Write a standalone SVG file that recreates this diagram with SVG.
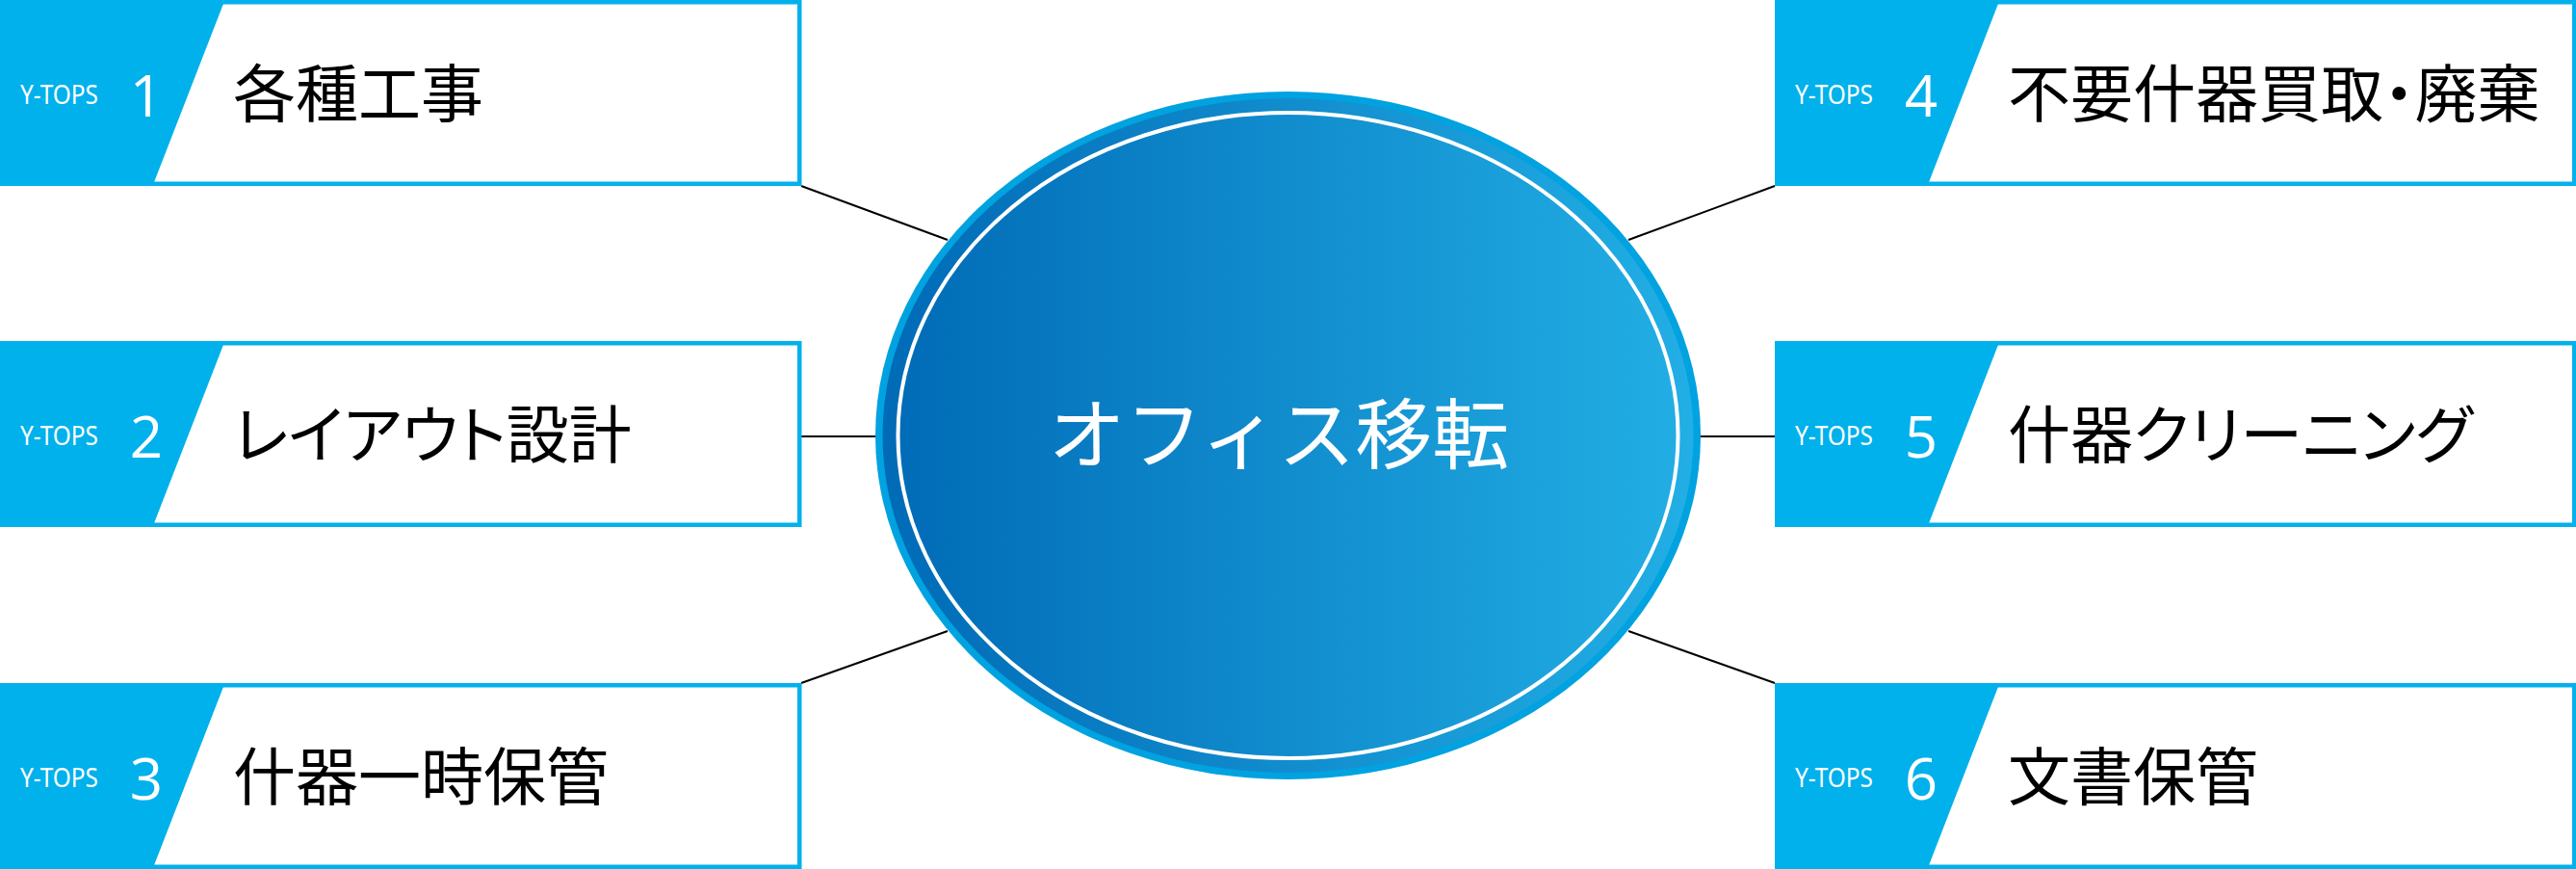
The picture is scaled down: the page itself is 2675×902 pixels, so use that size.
<svg xmlns="http://www.w3.org/2000/svg" width="2675" height="902" viewBox="0 0 2675 902">
<defs>
<linearGradient id="g" x1="0" y1="0" x2="1" y2="0">
<stop offset="0" stop-color="#006ab6"/>
<stop offset="1" stop-color="#22afe5"/>
</linearGradient>
<style>
.frame{fill:#fff;stroke:#00b1ec;stroke-width:4.5}
.tab{fill:#00b1ec}
.brand{font-family:"Noto Sans","Open Sans",sans-serif;font-size:27px;fill:#fff}
.num{font-family:"Open Sans","Noto Sans",sans-serif;font-weight:400;font-size:60px;fill:#fff;text-anchor:middle}
.lbl{font-family:"Noto Sans CJK JP","Noto Sans",sans-serif;font-size:65px;fill:#000;font-feature-settings:"palt"}
.conn line{stroke:#000;stroke-width:2}
.hub{font-family:"Noto Sans CJK JP","Noto Sans",sans-serif;font-size:80px;fill:#fff;text-anchor:middle}
</style>
</defs>
<rect width="2675" height="902" fill="#fff"/>
<g class="conn">
<line x1="832" y1="193" x2="984" y2="249"/>
<line x1="832" y1="453" x2="910" y2="453"/>
<line x1="832" y1="709" x2="984" y2="655"/>
<line x1="1843" y1="193" x2="1691" y2="249"/>
<line x1="1843" y1="453" x2="1765" y2="453"/>
<line x1="1843" y1="709" x2="1691" y2="655"/>
</g>
<g id="hub">
<ellipse cx="1337.5" cy="452" rx="428.5" ry="357" fill="#00a2e0"/>
<ellipse cx="1337.5" cy="452" rx="421" ry="350" fill="url(#g)"/>
<ellipse cx="1337.5" cy="452" rx="405" ry="335" fill="none" stroke="#fff" stroke-width="4"/>
<text class="hub" x="1328" y="480">オフィス移転</text>
</g>
<g id="node1" transform="translate(0,0)">
<rect class="frame" x="2.25" y="2.25" width="828" height="188.5"/>
<polygon class="tab" points="0,0 233.5,0 158.5,193 0,193"/>
<text class="brand" x="21" y="108" textLength="81" lengthAdjust="spacingAndGlyphs">Y-TOPS</text>
<text class="num" x="152" y="121">1</text>
<text class="lbl" x="242" y="121">各種工事</text>
</g>
<g id="node2" transform="translate(0,354)">
<rect class="frame" x="2.25" y="2.25" width="828" height="188.5"/>
<polygon class="tab" points="0,0 233.5,0 158.5,193 0,193"/>
<text class="brand" x="21" y="108" textLength="81" lengthAdjust="spacingAndGlyphs">Y-TOPS</text>
<text class="num" x="152" y="121">2</text>
<text class="lbl" x="242" y="121">レイアウト設計</text>
</g>
<g id="node3" transform="translate(0,709)">
<rect class="frame" x="2.25" y="2.25" width="828" height="188.5"/>
<polygon class="tab" points="0,0 233.5,0 158.5,193 0,193"/>
<text class="brand" x="21" y="108" textLength="81" lengthAdjust="spacingAndGlyphs">Y-TOPS</text>
<text class="num" x="152" y="121">3</text>
<text class="lbl" x="242" y="121">什器一時保管</text>
</g>
<g id="node4" transform="translate(1843,0)">
<rect class="frame" x="2.25" y="2.25" width="828" height="188.5"/>
<polygon class="tab" points="0,0 233.5,0 158.5,193 0,193"/>
<text class="brand" x="21" y="108" textLength="81" lengthAdjust="spacingAndGlyphs">Y-TOPS</text>
<text class="num" x="152" y="121">4</text>
<text class="lbl" x="242" y="121">不要什器買取・廃棄</text>
</g>
<g id="node5" transform="translate(1843,354)">
<rect class="frame" x="2.25" y="2.25" width="828" height="188.5"/>
<polygon class="tab" points="0,0 233.5,0 158.5,193 0,193"/>
<text class="brand" x="21" y="108" textLength="81" lengthAdjust="spacingAndGlyphs">Y-TOPS</text>
<text class="num" x="152" y="121">5</text>
<text class="lbl" x="242" y="121">什器クリーニング</text>
</g>
<g id="node6" transform="translate(1843,709)">
<rect class="frame" x="2.25" y="2.25" width="828" height="188.5"/>
<polygon class="tab" points="0,0 233.5,0 158.5,193 0,193"/>
<text class="brand" x="21" y="108" textLength="81" lengthAdjust="spacingAndGlyphs">Y-TOPS</text>
<text class="num" x="152" y="121">6</text>
<text class="lbl" x="242" y="121">文書保管</text>
</g>
</svg>
